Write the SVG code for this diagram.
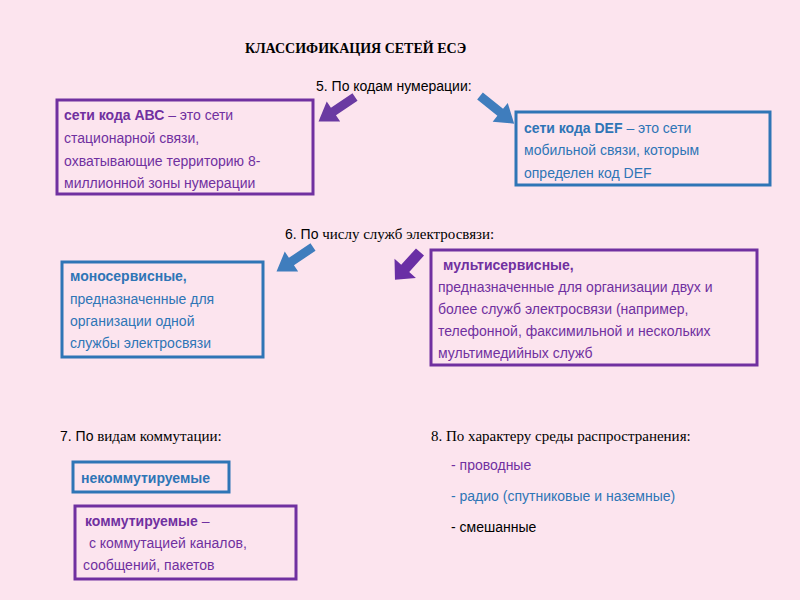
<svg xmlns="http://www.w3.org/2000/svg" width="800" height="600" viewBox="0 0 800 600">
<style>
.s{font-family:"Liberation Sans",Arial,sans-serif;font-size:14px}
.r{font-family:"Liberation Serif","Times New Roman",serif;font-size:15px}
.p{fill:#7030a0}.b{fill:#2e75b6}
.bp{fill:none;stroke:#7030a0;stroke-width:3}
.bb{fill:none;stroke:#2e75b6;stroke-width:3}
</style>
<defs><polygon id="ar" points="0,-4.5 26,-4.5 26,-12 44,0 26,12 26,4.5 0,4.5"/></defs>
<rect width="800" height="600" fill="#fce4ee"/>
<text x="245" y="53" font-family="Liberation Serif,serif" font-weight="bold" font-size="14">КЛАССИФИКАЦИЯ  СЕТЕЙ    ЕСЭ</text>
<text x="316" y="91" class="s" font-size="15">5. По кодам нумерации:</text>
<text x="285" y="239" class="r"><tspan class="s" font-size="15">6. По</tspan> числу служб электросвязи:</text>
<text x="60" y="441" class="r"><tspan class="s" font-size="15">7. По</tspan> видам коммутации:</text>
<text x="431" y="441" class="r">8. По характеру среды распространения:</text>
<g id="connectors">
<use href="#ar" fill="#6a3aa2" transform="translate(355,97) rotate(146)"/>
<use href="#ar" fill="#3f7dbd" transform="translate(480,96) rotate(39)"/>
<use href="#ar" fill="#3f7dbd" transform="translate(313,247) rotate(146)"/>
<use href="#ar" fill="#6a2fa5" transform="translate(420,252) rotate(132) scale(0.85,1.2)"/>
</g>
<g id="abc"><rect x="57" y="100" width="256" height="94" class="bp"/>
<text class="s p"><tspan x="64" y="120"><tspan font-weight="bold">сети кода АВС</tspan> – это сети</tspan><tspan x="64" y="143">стационарной связи,</tspan><tspan x="64" y="166">охватывающие территорию 8-</tspan><tspan x="64" y="188">миллионной зоны нумерации</tspan></text></g>
<g id="def"><rect x="516" y="112" width="254" height="73" class="bb"/>
<text class="s b"><tspan x="524" y="133"><tspan font-weight="bold">сети кода DEF</tspan> – это сети</tspan><tspan x="524" y="155">мобильной связи, которым</tspan><tspan x="524" y="178">определен  код DEF</tspan></text></g>
<g id="mono"><rect x="62" y="262" width="201" height="95" class="bb"/>
<text class="s b"><tspan x="70" y="281" font-weight="bold">моносервисные,</tspan><tspan x="70" y="304">предназначенные для</tspan><tspan x="70" y="326">организации одной</tspan><tspan x="70" y="348">службы электросвязи</tspan></text></g>
<g id="multi"><rect x="431" y="250" width="326" height="115" class="bp"/>
<text class="s p"><tspan x="443" y="270" font-weight="bold">мультисервисные,</tspan><tspan x="438" y="292">предназначенные для организации двух и</tspan><tspan x="438" y="314">более служб электросвязи (например,</tspan><tspan x="438" y="336">телефонной, факсимильной и нескольких</tspan><tspan x="438" y="358">мультимедийных служб</tspan></text></g>
<g id="nekom"><rect x="73" y="462" width="156" height="30" class="bb"/>
<text x="81" y="483" class="s b" font-weight="bold">некоммутируемые</text></g>
<g id="kom"><rect x="75" y="506" width="221" height="73" class="bp"/>
<text class="s p"><tspan x="85" y="526"><tspan font-weight="bold">коммутируемые</tspan> –</tspan><tspan x="85" y="548"> с коммутацией каналов,</tspan><tspan x="83" y="570">сообщений, пакетов</tspan></text></g>
<g id="list" class="s">
<text x="451" y="470" class="p">- проводные</text>
<text x="451" y="501" class="b">- радио (спутниковые и наземные)</text>
<text x="451" y="532">- смешанные</text></g>
</svg>
